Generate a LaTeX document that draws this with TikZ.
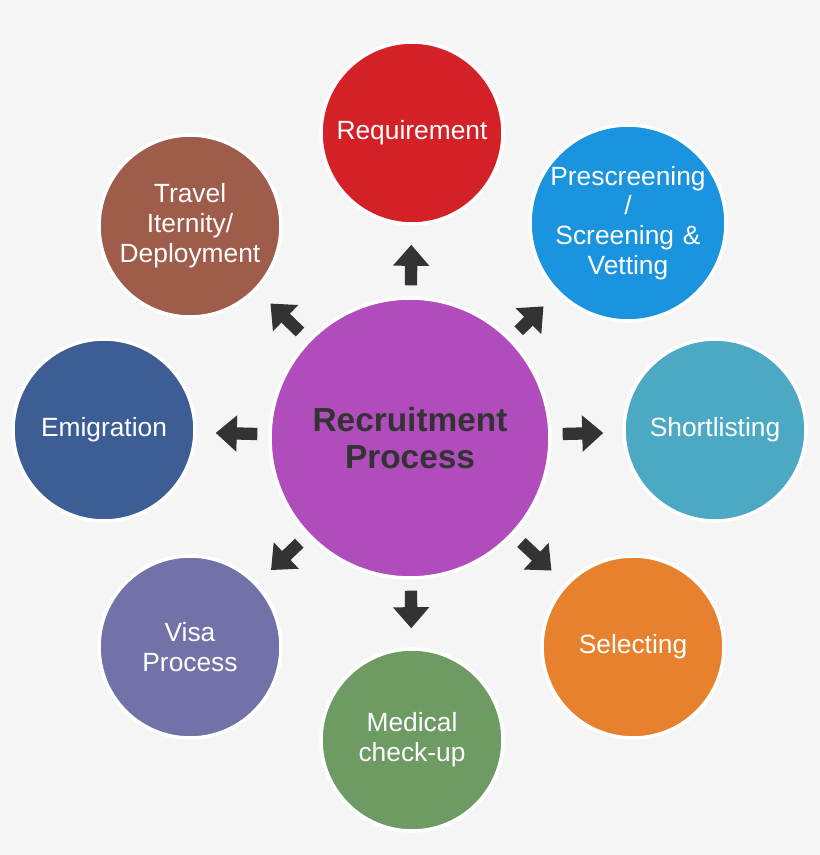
\documentclass[tikz,border=0pt]{standalone}
\usepackage{fontspec}
\setmainfont{Liberation Sans}
\usetikzlibrary{arrows.meta}
\definecolor{bgcol}{HTML}{F5F5F5}
\definecolor{hubcol}{HTML}{B04CBB}
\definecolor{arrcol}{HTML}{333333}
\definecolor{reqcol}{HTML}{D42027}
\definecolor{precol}{HTML}{1A94DE}
\definecolor{shocol}{HTML}{4BA9C3}
\definecolor{selcol}{HTML}{E8812D}
\definecolor{medcol}{HTML}{6E9A64}
\definecolor{viscol}{HTML}{7272A8}
\definecolor{emicol}{HTML}{3C5E95}
\definecolor{trvcol}{HTML}{9F5C4A}
\tikzstyle{arrow} = [-{Triangle[width=20pt,length=12pt]}, line width=7pt, draw=arrcol, shorten <=0.22cm, shorten >=0.38cm]
\tikzstyle{stage} = [circle, draw=white, line width=2pt, minimum size=3.64cm, text=white,
text width=3.2cm, align=center, font=\fontsize{15}{17}\selectfont, inner sep=0pt]
\tikzstyle{hub} = [circle, draw=white, line width=2pt, fill=hubcol, minimum size=5.6cm,
text=arrcol, align=center, font=\fontsize{19}{21}\selectfont\bfseries]
\begin{document}
\begin{tikzpicture}[x=0.02cm, y=-0.02cm]
				\fill[bgcol] (0,0) rectangle (820,855);
				\useasboundingbox (0,0) rectangle (820,855);
				% Place nodes
				\node (hub) [hub] at (410,438) {Recruitment\\Process};
				\node (requirement) [stage, fill=reqcol] at (412,133) {Requirement};
				\node (prescreening) [stage, fill=precol] at (628,223) {Prescreening /\\Screening \&\\Vetting};
				\node (shortlisting) [stage, fill=shocol] at (715,430) {Shortlisting};
				\node (selecting) [stage, fill=selcol] at (633,647) {Selecting};
				\node (medical) [stage, fill=medcol] at (412,740) {Medical\\check-up};
				\node (visa) [stage, fill=viscol] at (190,647) {Visa\\Process};
				\node (emigration) [stage, fill=emicol] at (104,430) {Emigration};
				\node (travel) [stage, fill=trvcol] at (190,226) {Travel Iternity/\\Deployment};

				% Draw arrows
				\foreach \n in {requirement,prescreening,shortlisting,selecting,medical,visa,emigration,travel}
					\draw [arrow] (hub) -- (\n);

			\end{tikzpicture}
\end{document}
